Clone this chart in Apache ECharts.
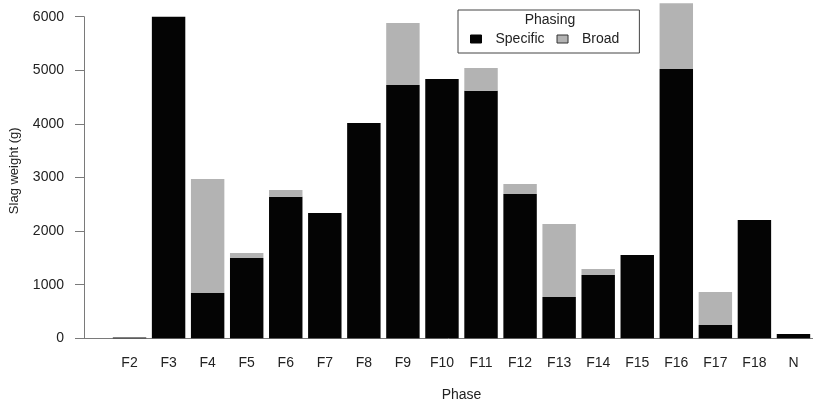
<!DOCTYPE html>
<html>
<head>
<meta charset="utf-8">
<script src="https://cdn.jsdelivr.net/npm/echarts@6/dist/echarts.min.js"></script>
<style>html,body{margin:0;padding:0;background:#fff}#c{width:813px;height:408px}</style>
</head>
<body>
<div id="c"></div>
<script>
const categories = ['F2','F3','F4','F5','F6','F7','F8','F9','F10','F11','F12','F13','F14','F15','F16','F17','F18','N'];
const specific = [15, 6000, 845, 1500, 2640, 2338, 4016, 4726, 4838, 4619, 2692, 771, 1181, 1554, 5024, 248, 2207, 80];
const broad    = [0, 0, 2127, 90, 125, 0, 0, 1156, 0, 424, 187, 1361, 112, 0, 1226, 616, 0, 0];
const yTicks = [0, 1000, 2000, 3000, 4000, 5000, 6000];

const FONT = 'Liberation Sans';
const TXT = '#222';
const AX = '#7a7a7a';
const chart = echarts.init(document.getElementById('c'), null, {renderer: 'canvas'});
chart.setOption({
  animation: false,
  backgroundColor: '#fff',
  textStyle: {fontFamily: FONT},
  title: {
    text: 'Phasing', left: 550, top: 13, textAlign: 'center', padding: 0,
    textStyle: {fontFamily: FONT, fontSize: 14, fontWeight: 'normal', color: TXT}
  },
  legend: {
    left: 458, top: 10, orient: 'horizontal',
    padding: [22, 20, 7, 12],
    borderColor: '#444', borderWidth: 1,
    itemWidth: 11, itemHeight: 8, itemGap: 12,
    formatter: n => '{t|' + n + '}',
    textStyle: {fontFamily: FONT, fontSize: 14, color: TXT,
      rich: {t: {fontFamily: FONT, fontSize: 14, color: TXT, padding: [0, 0, 0, 9]}}},
    data: [
      {name: 'Specific', icon: 'rect', itemStyle: {color: '#040404', borderColor: '#040404', borderWidth: 1}},
      {name: 'Broad', icon: 'rect', itemStyle: {color: '#b3b3b3', borderColor: '#333', borderWidth: 1}}
    ]
  },
  grid: [
    {left: 108.45, right: -10.05, top: 3.3, bottom: 69.7, containLabel: false},
    {left: 84, right: 0, top: 16.7, bottom: 69.7, containLabel: false}
  ],
  xAxis: [
    {
      type: 'category', gridIndex: 0, data: categories,
      name: 'Phase', nameLocation: 'middle', nameGap: 50,
      nameTextStyle: {fontFamily: FONT, fontSize: 14, color: TXT},
      axisLine: {show: false}, axisTick: {show: false},
      axisLabel: {fontFamily: FONT, fontSize: 14, color: TXT, margin: 18, interval: 0}
    },
    {
      type: 'value', gridIndex: 1, min: 0, max: 1,
      axisLine: {show: true, lineStyle: {color: AX, width: 1}},
      axisTick: {show: false}, axisLabel: {show: false}, splitLine: {show: false}
    }
  ],
  yAxis: [
    {
      type: 'value', gridIndex: 0, min: 0, max: 6250,
      name: 'Slag weight (g)', nameLocation: 'middle', nameGap: 89,
      nameTextStyle: {fontFamily: FONT, fontSize: 13, color: TXT},
      axisLine: {show: false}, axisTick: {show: false}, axisLabel: {show: false}, splitLine: {show: false}
    },
    {
      type: 'value', gridIndex: 1, min: yTicks[0], max: yTicks[yTicks.length - 1], interval: 1000,
      axisLine: {show: true, lineStyle: {color: AX, width: 1}},
      axisTick: {show: true, inside: false, length: 9, lineStyle: {color: AX, width: 1}},
      axisLabel: {fontFamily: FONT, fontSize: 14, color: TXT, margin: 20, formatter: v => String(v)},
      splitLine: {show: false}
    }
  ],
  series: [
    {name: 'Specific', type: 'bar', stack: 'p', xAxisIndex: 0, yAxisIndex: 0, data: specific,
      barCategoryGap: '14.4%', itemStyle: {color: '#040404'}},
    {name: 'Broad', type: 'bar', stack: 'p', xAxisIndex: 0, yAxisIndex: 0, data: broad,
      barCategoryGap: '14.4%', itemStyle: {color: '#b3b3b3'}}
  ]
});
</script>
</body>
</html>
